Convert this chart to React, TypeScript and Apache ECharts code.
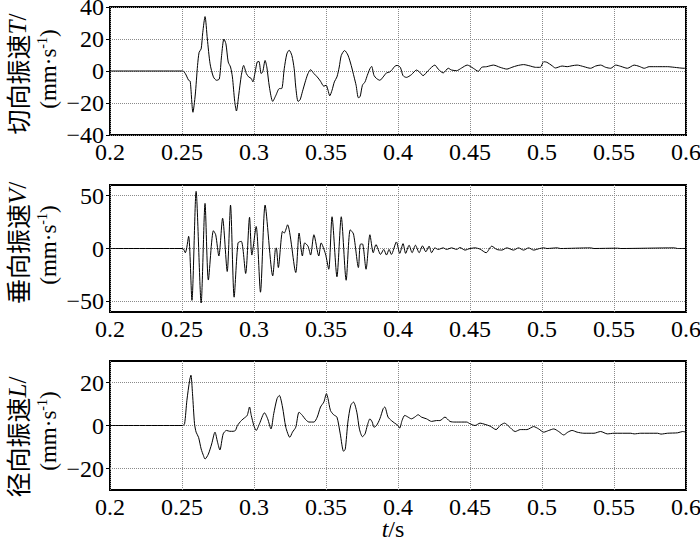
import React, { useEffect, useRef } from 'react';
import * as echarts from 'echarts';

// ---- Data (time in s, velocity in mm/s) ----
const tangentialTime = [
  0.2, 0.2505, 0.2523, 0.2546, 0.2557, 0.2576, 0.2592, 0.2608, 0.2619, 0.2633, 0.2644, 0.266, 0.2676, 0.2695,
  0.2718, 0.274, 0.2759, 0.2775, 0.2791, 0.2805, 0.2821, 0.2837, 0.285, 0.2866, 0.2878, 0.2894, 0.2912, 0.2928,
  0.2947, 0.2963, 0.2981, 0.2992, 0.3008, 0.3022, 0.3034, 0.305, 0.3061, 0.3077, 0.3089, 0.3107, 0.313, 0.3153,
  0.3176, 0.3192, 0.321, 0.3228, 0.3244, 0.3263, 0.3279, 0.329, 0.3306, 0.332, 0.3336, 0.3359, 0.3375, 0.3393,
  0.3416, 0.3439, 0.3462, 0.3485, 0.3501, 0.3514, 0.3526, 0.3542, 0.3558, 0.3576, 0.3592, 0.3606, 0.3629, 0.3652,
  0.3675, 0.3695, 0.3709, 0.3725, 0.3737, 0.3753, 0.3771, 0.3787, 0.3805, 0.3817, 0.3833, 0.3851, 0.3874, 0.3897,
  0.392, 0.3943, 0.3961, 0.3977, 0.3993, 0.4016, 0.4035, 0.4058, 0.4093, 0.4128, 0.4151, 0.4174, 0.4209, 0.4256,
  0.4279, 0.4314, 0.4349, 0.4372, 0.4407, 0.4442, 0.4481, 0.4523, 0.4558, 0.4581, 0.4616, 0.4663, 0.4709, 0.4756,
  0.4791, 0.4826, 0.4872, 0.4919, 0.4954, 0.4988, 0.5012, 0.5035, 0.507, 0.5093, 0.514, 0.5175, 0.5209, 0.5244,
  0.5291, 0.5337, 0.5372, 0.5407, 0.5442, 0.5477, 0.5512, 0.5547, 0.5593, 0.564, 0.5675, 0.571, 0.5744, 0.5803,
  0.5872, 0.5919, 0.5988, 0.6,
];
const tangentialVel = [
  0, 0, -1.6, -5.8, -6.4, -25.8, -15, 3.5, 11.7, 13.8, 24, 34, 20, 4.5,
  -3.7, -5.8, -5, 9.7, 20, 17, 5.6, 2.5, -3.7, -19, -25, -15, -2.7, 3.5,
  -1.6, -3.7, -4.7, -6.8, -0.6, 5.6, 6, -1.6, -0.4, 6.6, 2.5, -10, -19, -15,
  -11, -11, 1.4, 10.7, 13, 9.7, 1.4, -10, -19, -18, -13, -5.8, -1.6, 0.8,
  -1.6, -3.7, -6.4, -9.5, -8.9, -12, -15.5, -12, -6.8, -3.7, 2.5, 9.7, 12.8, 10,
  3.5, -3.7, -8.9, -16.7, -16, -8.9, -6.8, -2.7, 1.4, 2.9, -2.7, -4.7, -5.8, -3.7,
  -1.2, -0.6, 1, 2.9, 3.5, 2.3, -2.9, -4, -2.3, 0.6, -0.8, -2.9, 0.2, 3.7,
  1.2, -1.2, 1.7, 0.6, 0.2, 1.9, 3.7, 1.7, -0.2, 2.3, 2.7, 3.7, 2.3, 1.2,
  2.3, 3.3, 4, 3.1, 2.3, 2.3, 5.8, 5.4, 3.3, 1.9, 3.1, 2.7, 3.3, 3.7,
  2.7, 1.7, 3.1, 3.7, 2.3, 1.7, 3.7, 2.9, 1.7, 3.7, 2.9, 1.7, 2.7, 2.7,
  2.7, 2.3, 1.7, 1.7,
];

const verticalTime = [
  0.2, 0.2505, 0.2523, 0.2546, 0.2569, 0.2598, 0.2633, 0.266, 0.2683, 0.2718, 0.2734, 0.2756, 0.2782, 0.2814,
  0.2837, 0.2862, 0.2889, 0.2912, 0.2942, 0.2969, 0.2985, 0.3015, 0.3045, 0.3077, 0.313, 0.3148, 0.3155, 0.3169,
  0.3198, 0.321, 0.3233, 0.329, 0.3313, 0.3336, 0.3352, 0.3375, 0.3393, 0.3416, 0.345, 0.3466, 0.3496, 0.3519,
  0.3542, 0.3576, 0.3606, 0.364, 0.3668, 0.3691, 0.3725, 0.3737, 0.3753, 0.3778, 0.3805, 0.3828, 0.3847, 0.3879,
  0.3901, 0.392, 0.3938, 0.3954, 0.3989, 0.4012, 0.4035, 0.4053, 0.4077, 0.4098, 0.4121, 0.4147, 0.417, 0.4193,
  0.4216, 0.4233, 0.4256, 0.4279, 0.4314, 0.4337, 0.4372, 0.4407, 0.443, 0.4465, 0.45, 0.4535, 0.457, 0.4612,
  0.4651, 0.4686, 0.4721, 0.4756, 0.4802, 0.4837, 0.4872, 0.4907, 0.4942, 0.4984, 0.5012, 0.5035, 0.5105, 0.5128,
  0.5337, 0.5361, 0.5523, 0.5547, 0.5919, 0.5942, 0.6,
];
const verticalVel = [
  0, 0, -4, 11.5, -49, 54, -51.5, 42.6, -29.8, 16.8, 13, -7.1, 28.6, -21.7,
  41, -46, 5.3, 6.8, -23.6, 29.5, -6.2, 20.8, -41.3, 41, -25.8, -0.9, 0.6, -18,
  16.2, 14.6, 22.4, -22.7, 14.6, -7.1, 5.3, 2.2, -6.2, 13, -7.1, 5.3, -5, -19.6,
  30, -26.7, 30, -30, 17.7, 13.7, -18, 3.7, 4.3, -19.6, 13, -4, 3.7, -5.6,
  -0.9, -6.2, -0.9, -5.6, 6.2, -4.6, 4.6, -4.6, 3.1, -4, 3.1, -4, 2.5, -3.1,
  2.2, -4, 0.6, -0.9, 0.6, -0.9, 0.6, -0.9, 0.9, -1.5, 0, 0.6, -0.6, -4,
  2.2, -0.9, -1.5, 0.6, -1.5, 0.6, -1.5, 0.6, -1.5, 0, 0.6, 0, 0.6, 0,
  0.6, 0, 0.3, 0, 0.6, 0, 0,
];

const radialTime = [
  0.2, 0.2505, 0.2518, 0.2534, 0.2553, 0.2562, 0.2573, 0.2587, 0.2598, 0.2615, 0.2633, 0.2649, 0.266, 0.2683,
  0.2706, 0.2729, 0.2747, 0.2763, 0.2786, 0.2809, 0.2832, 0.2855, 0.2871, 0.2885, 0.2912, 0.2935, 0.2953, 0.2969,
  0.2981, 0.2999, 0.3015, 0.3038, 0.3073, 0.3095, 0.3118, 0.3137, 0.316, 0.3176, 0.3198, 0.3221, 0.3249, 0.3267,
  0.329, 0.3313, 0.3336, 0.3359, 0.3382, 0.3416, 0.3439, 0.3462, 0.3485, 0.3503, 0.3514, 0.3531, 0.3553, 0.3576,
  0.3599, 0.3622, 0.3634, 0.3652, 0.3672, 0.3691, 0.3714, 0.3732, 0.3753, 0.3771, 0.3787, 0.3805, 0.3821, 0.3833,
  0.3851, 0.3874, 0.3897, 0.3908, 0.3931, 0.3954, 0.3977, 0.4, 0.4012, 0.4028, 0.4047, 0.407, 0.4093, 0.4116,
  0.414, 0.4163, 0.4198, 0.4233, 0.4267, 0.4291, 0.4326, 0.4361, 0.4395, 0.4442, 0.4477, 0.45, 0.4535, 0.457,
  0.4605, 0.464, 0.4681, 0.4709, 0.474, 0.4768, 0.4814, 0.4849, 0.4895, 0.4942, 0.4977, 0.5012, 0.5047, 0.5082,
  0.5116, 0.5151, 0.5179, 0.5209, 0.5244, 0.5291, 0.5361, 0.5407, 0.5454, 0.55, 0.5617, 0.564, 0.5686, 0.5803,
  0.5826, 0.5872, 0.5942, 0.5977, 0.6,
];
const radialVel = [
  0, 0, 0.8, 11.7, 21, 23.4, 14.8, 0.8, -3.1, -5.5, -10.9, -14, -15.6, -13.3,
  -8.6, -3.1, -7.8, -11.4, -3.9, -2.3, -2.7, -2.7, -2.3, 0, 2.3, 3.6, 4.7, 8.6,
  4.7, 0, -2.3, 0.8, 5.9, 3.1, -1.6, 5.5, 12.5, 14, 8.6, -0.8, -5.5, -3.1,
  -0.8, 6.2, 4.7, 2.7, 1.6, 1.6, 3.9, 8.6, 10.9, 14.8, 12.5, 7, 5, 3.9,
  -3.9, -12, -10.9, 1.6, 9.4, 10.9, 6.2, -1.6, -5.2, -3.9, 0, 3.1, 1.6, -0.8,
  0, 3.1, 7.8, 8.6, 3.9, 2.3, 1.1, 0, -1.2, 2.3, 4.7, 3.9, 3.1, 3.9,
  5, 3.9, 3.1, 1.9, 2.3, 2.3, 3.9, 1.9, 1.6, 1.6, 1.6, 0.8, 0, 1.1,
  0.5, -0.3, -1.9, 0, 1.1, -0.3, -2.8, -1.9, -1.9, -0.5, -1.6, -3.1, -2.3, -1.6,
  -2.8, -4.4, -3.1, -2.3, -3.1, -3.6, -3.6, -2.8, -3.9, -3.6, -3.6, -3.9, -3.6, -3.6,
  -4, -3.6, -3.4, -2.8, -3.1,
];

const yTicksTangential = [-40, -20, 0, 20, 40];
const yTicksVertical = [-50, 0, 50];
const yTicksRadial = [-20, 0, 20];
const yRanges = [
  [-40, 40],
  [-60, 60],
  [-30, 30],
];
const panelNames = ['切向振速', '垂向振速', '径向振速'];
const panelSymbols = ['T', 'V', 'L'];

const SERIF = '"Liberation Serif", "Times New Roman", serif';
const CJK = '"Noto Sans CJK SC", sans-serif';

export default function App() {
  const ref = useRef<HTMLDivElement>(null);

  useEffect(() => {
    if (!ref.current) return;
    const chart = echarts.init(ref.current, undefined, { renderer: 'svg' });

    const grids = [
      { top: 7, height: 128 },
      { top: 185, height: 127 },
      { top: 361, height: 129 },
    ];
    const yTicks = [yTicksTangential, yTicksVertical, yTicksRadial];
    const series = [
      [tangentialTime, tangentialVel],
      [verticalTime, verticalVel],
      [radialTime, radialVel],
    ];
    const nameCenters = [
      [17, 74, 48, 69],
      [17, 243, 48, 245],
      [17, 437, 48, 431],
    ];

    const gridLine = { show: true, lineStyle: { color: '#8a8a8a', type: 'dotted', width: 1 } };

    const option: any = {
      animation: false,
      backgroundColor: '#fff',
      grid: grids.map((g) => ({
        left: 110,
        right: 14,
        top: g.top,
        height: g.height,
        show: true,
        borderColor: '#000',
        borderWidth: 2,
        backgroundColor: 'transparent',
        containLabel: false,
        outerBoundsMode: 'none',
      })),
      xAxis: grids.map((_, i) => ({
        type: 'value',
        gridIndex: i,
        min: 0.2,
        max: 0.6,
        interval: 0.05,
        axisLine: { show: false },
        axisTick: { show: false },
        splitLine: gridLine,
        axisLabel: {
          color: '#000',
          fontFamily: SERIF,
          fontSize: 24,
          lineHeight: 20,
          margin: 7,
          showMinLabel: true,
          showMaxLabel: true,
          hideOverlap: false,
        },
      })),
      yAxis: grids.map((_, i) => ({
        type: 'value',
        gridIndex: i,
        min: yRanges[i][0],
        max: yRanges[i][1],
        axisLine: { show: false },
        axisTick: {
          show: true,
          customValues: yTicks[i],
          length: 4,
          lineStyle: { color: '#000', width: 1 },
        },
        splitLine: gridLine,
        axisLabel: {
          customValues: yTicks[i],
          color: '#000',
          fontFamily: SERIF,
          fontSize: 24,
          lineHeight: 16,
          margin: 6,
          formatter: (v: number) => (v < 0 ? '\u2212' + Math.abs(v) : String(v)),
        },
      })),
      series: series.map(([t, v], i) => ({
        type: 'line',
        xAxisIndex: i,
        yAxisIndex: i,
        data: t.map((x, k) => [x, v[k]]),
        showSymbol: false,
        symbol: 'none',
        smooth: 0.25,
        lineStyle: { color: '#000', width: 1 },
        silent: true,
      })),
      graphic: [
        ...nameCenters.flatMap((c, i) => [
          {
            type: 'text',
            x: c[0],
            y: c[1],
            rotation: Math.PI / 2,
            style: {
              text: `{c|${panelNames[i]}}{i|${panelSymbols[i]}}{r|/}`,
              align: 'center',
              verticalAlign: 'middle',
              rich: {
                c: { fontFamily: CJK, fontSize: 25, fill: '#000', lineHeight: 28 },
                i: { fontFamily: SERIF, fontSize: 25, fontStyle: 'italic', fill: '#000', lineHeight: 28 },
                r: { fontFamily: SERIF, fontSize: 25, fill: '#000', lineHeight: 28 },
              },
            },
          },
          {
            type: 'text',
            x: c[2],
            y: c[3],
            rotation: Math.PI / 2,
            style: {
              text: '{r|(mm·s}{s|-1}{r|)}',
              align: 'center',
              verticalAlign: 'middle',
              rich: {
                r: { fontFamily: SERIF, fontSize: 23, fill: '#000', lineHeight: 25 },
                s: { fontFamily: SERIF, fontSize: 14, fill: '#000', verticalAlign: 'top', lineHeight: 25 },
              },
            },
          },
        ]),
        {
          type: 'text',
          x: 393,
          y: 529,
          style: {
            text: '{i|t}{r|/s}',
            align: 'center',
            verticalAlign: 'middle',
            rich: {
              i: { fontFamily: SERIF, fontSize: 24, fontStyle: 'italic', fill: '#000', lineHeight: 20 },
              r: { fontFamily: SERIF, fontSize: 24, fill: '#000', lineHeight: 20 },
            },
          },
        },
      ],
    };

    chart.setOption(option);
    return () => chart.dispose();
  }, []);

  return (
    <div
      ref={ref}
      style={{ position: 'absolute', left: 0, top: 0, width: 700, height: 543, background: '#fff' }}
    />
  );
}
